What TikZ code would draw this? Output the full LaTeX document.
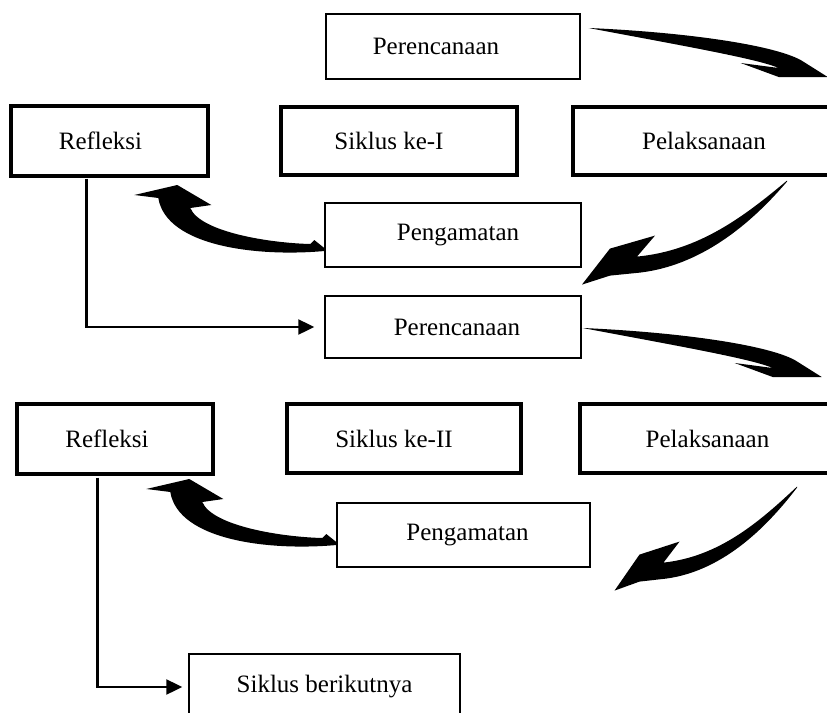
\documentclass[tikz,border=0pt]{standalone}
\usepackage{fontspec}
\setmainfont{Liberation Serif}
\usetikzlibrary{arrows.meta,positioning}
\tikzset{
  thin box/.style={draw,line width=0.7pt,inner sep=0pt,font=\fontsize{12.5pt}{15pt}\selectfont},
  thick box/.style={draw,line width=1.6pt,inner sep=0pt,font=\fontsize{12.5pt}{15pt}\selectfont},
  flow/.style={line width=1.1pt,-{Triangle[length=8pt,width=7.5pt]}},
  brush right/.pic={\fill (0,0) .. controls (92,4) and (182,16) .. (212,32) -- (239,49) -- (190,49) -- (152,35) -- (190,40) .. controls (170,31) and (90,17) .. (0,0) -- cycle;},
  brush down/.pic={\fill (0,1) .. controls (-30,36) and (-80,84) .. (-147,92) -- (-177,95) -- (-205,104) -- (-177,68) -- (-132,55) -- (-150,76) .. controls (-87,70) and (-42,35) .. (0,0) -- cycle;},
  brush up/.pic={\fill (0,0) .. controls (-65,6) and (-158,-4) .. (-166,-53) -- (-190,-56) -- (-147,-66) -- (-113,-46) -- (-134,-43) .. controls (-124,-19) and (-55,-8) .. (-14,-7) -- (-10,-11) -- (0,-3) -- cycle;}
}
\begin{document}
\begin{tikzpicture}[x=0.5pt,y=-0.5pt]
	\useasboundingbox (0,0) rectangle (827,713);
	
	% siklus I
	\node[thin box,minimum width=127pt,minimum height=32.5pt] (rencanaA) at (453,46.5) {\hspace*{-17pt}Perencanaan};
	\node[thick box,minimum width=98.5pt,minimum height=35pt] (refleksiA) at (109.5,141) {\hspace*{-9pt}Refleksi};
	\node[thick box,minimum width=131pt,minimum height=34pt] (laksanaA) at (704,141) {Pelaksanaan};
	\node[thick box,minimum width=118pt,minimum height=34pt] (siklusA) at (399,141) {\hspace*{-10pt}Siklus ke-I};
	\node[thin box,minimum width=128pt,minimum height=32pt] (amatA) at (453,235) {\hspace*{5pt}Pengamatan};
	\node[thin box,minimum width=128pt,minimum height=31pt] (rencanaB) at (453,327) {\hspace*{4pt}Perencanaan};
	
	% siklus II
	\node[thick box,minimum width=98pt,minimum height=35pt] (refleksiB) at (115,439) {\hspace*{-8pt}Refleksi};
	\node[thick box,minimum width=117pt,minimum height=34.5pt] (siklusB) at (404,438.5) {\hspace*{-10pt}Siklus ke-II};
	\node[thick box,minimum width=127.5pt,minimum height=34.5pt] (laksanaB) at (707.5,438.5) {Pelaksanaan};
	\node[thin box,minimum width=126.5pt,minimum height=32pt] (amatB) at (463.5,535) {\hspace*{4pt}Pengamatan};
	\node[thin box,minimum width=135.5pt,minimum height=33pt] (lanjut) at (324.5,687) {Siklus berikutnya};
	
	% panah tebal
	\path (rencanaA.east) ++(8,-18.5) pic {brush right};
	\path (laksanaA.south) ++(83,4) pic {brush down};
	\path (amatA.west) ++(0,16) pic {brush up};
	\path (rencanaB.east) ++(1,1) pic {brush right};
	\path (laksanaB.south) ++(89.5,12) pic[xscale=0.89] {brush down};
	\path (amatB.west) ++(0,10) pic {brush up};
	
	\draw[flow,shorten >=5pt] (refleksiA.south west) ++(77,1) |- (rencanaB.west);
	\draw[flow,shorten >=3pt] (refleksiB.south west) ++(82,2) |- (lanjut.west);
\end{tikzpicture}
\end{document}
